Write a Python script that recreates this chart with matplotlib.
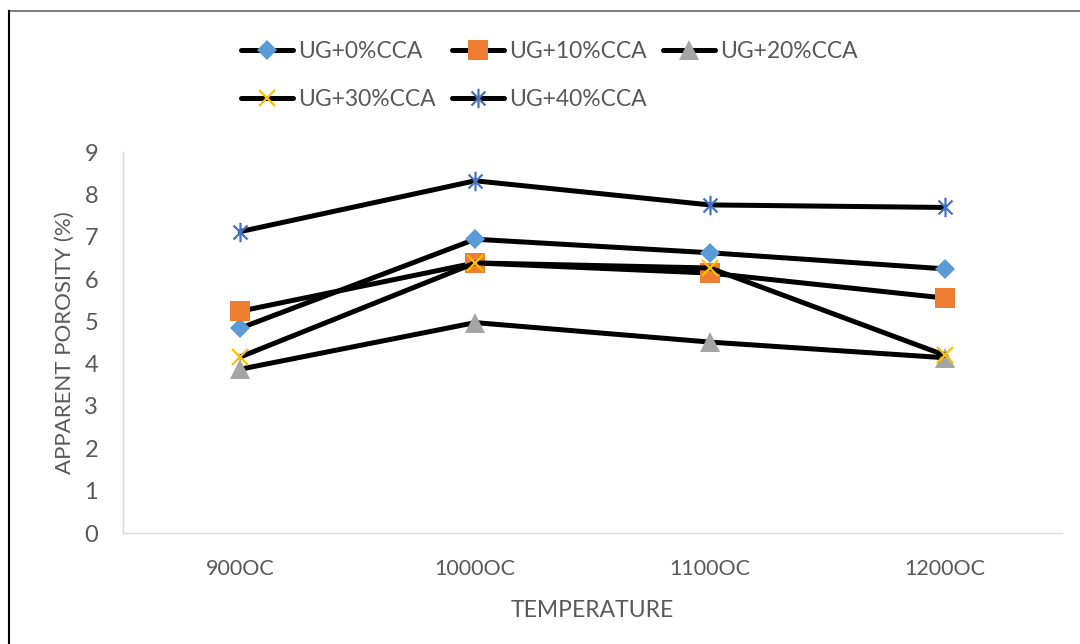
import matplotlib
matplotlib.use("Agg")
import matplotlib.pyplot as plt
from matplotlib.path import Path
from matplotlib.lines import Line2D

categories = ["900OC", "1000OC", "1100OC", "1200OC"]
series_names = ["UG+0%CCA", "UG+10%CCA", "UG+20%CCA", "UG+30%CCA", "UG+40%CCA"]
ug0 = [4.84, 6.94, 6.62, 6.24]
ug10 = [5.24, 6.38, 6.14, 5.55]
ug20 = [3.87, 4.97, 4.51, 4.14]
ug30 = [4.16, 6.38, 6.26, 4.20]
ug40 = [7.12, 8.32, 7.75, 7.69]
yticks = list(range(0, 10))

plt.rcParams['font.family'] = ['Lato', 'DejaVu Sans']
txt = '#595959'

fig = plt.figure(figsize=(10.8, 6.44), dpi=100)
ax = fig.add_axes([123/1080, 1-533/644, (1062-123)/1080, (533-152)/644])

star = Path([(0, -1), (0, 1), (-0.72, -0.72), (0.72, 0.72), (-0.72, 0.72), (0.72, -0.72)],
            [Path.MOVETO, Path.LINETO, Path.MOVETO, Path.LINETO, Path.MOVETO, Path.LINETO])

styles = [
    dict(marker='D', ms=10, mfc='#5B9BD5', mec='#5B9BD5', mew=0),
    dict(marker='s', ms=14, mfc='#ED7D31', mec='#ED7D31', mew=0),
    dict(marker='^', ms=14, mfc='#A5A5A5', mec='#A5A5A5', mew=0),
    dict(marker='x', ms=12, mfc='none', mec='#FFC000', mew=1.6),
    dict(marker=star, ms=14, mfc='none', mec='#4472C4', mew=1.6),
]
data = [ug0, ug10, ug20, ug30, ug40]
x = list(range(len(categories)))
handles = []
for name, vals, st in zip(series_names, data, styles):
    h, = ax.plot(x, vals, color='black', lw=3.6, label=name, solid_capstyle='round', **st)
    handles.append(h)

ax.set_xlim(-0.5, 3.5)
ax.set_ylim(0, 9)
ax.set_yticks(yticks)
ax.set_xticks(x)
ax.set_xticklabels(categories)
for s in ['top', 'right']:
    ax.spines[s].set_visible(False)
for s in ['left', 'bottom']:
    ax.spines[s].set_color('#d9d9d9')
    ax.spines[s].set_linewidth(1.0)
ax.tick_params(axis='both', length=0, labelcolor=txt)
ax.tick_params(axis='x', pad=19, labelsize=15.5)
ax.tick_params(axis='y', pad=18, labelsize=17)
ax.set_xlabel("TEMPERATURE", fontsize=16.5, color=txt, labelpad=15)
ax.set_ylabel("APPARENT POROSITY (%)", fontsize=16, color=txt)
ax.yaxis.set_label_coords((75 - 123) / 939, 0.5)

order = [0, 3, 1, 4, 2]
leg = fig.legend([handles[i] for i in order], [series_names[i] for i in order],
                 ncol=3, loc='upper left', bbox_to_anchor=(220/1080, 1-20/644),
                 frameon=False, fontsize=16.5, labelcolor=txt, handlelength=2.3,
                 handletextpad=0.2, columnspacing=0.7, labelspacing=1.2)

# figure frame lines
fig.add_artist(Line2D([9/1080, 1], [1-11/644, 1-11/644], color='#808080', lw=1.5))
fig.add_artist(Line2D([9/1080, 9/1080], [0, 1-11/644], color='black', lw=1.5))

fig.savefig("out.png", dpi=100)
